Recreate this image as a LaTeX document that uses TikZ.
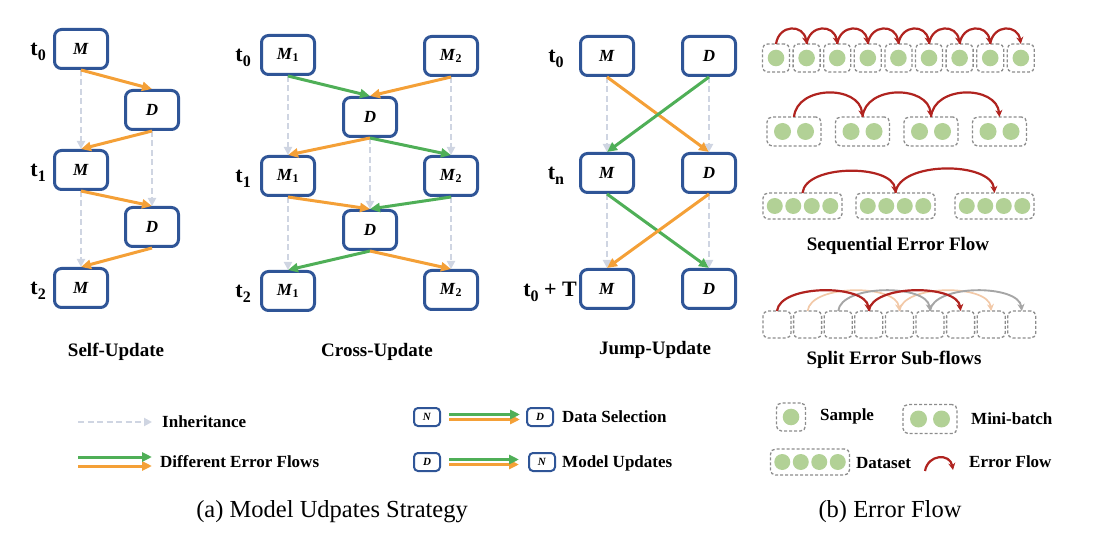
\documentclass[tikz,border=0pt]{standalone}
\usepackage{fontspec}
\setmainfont{Liberation Serif}
\usetikzlibrary{arrows.meta,positioning}

\definecolor{boxblue}{HTML}{2F5597}
\definecolor{flowor}{HTML}{F4A037}
\definecolor{flowgr}{HTML}{4FAF57}
\definecolor{inhgray}{HTML}{CFD5E2}
\definecolor{smpgreen}{HTML}{B2D196}
\definecolor{dashgray}{HTML}{8C8C8C}
\definecolor{errred}{HTML}{B0231F}
\definecolor{errpeach}{HTML}{F2C9A8}
\definecolor{errgray}{HTML}{A6A6A6}

\newcommand{\lbl}[1]{\textbf{\textit{#1}}}
\newcommand{\lbi}[2]{\textbf{\textit{#1}}\textsubscript{\textbf{#2}}}
\newcommand{\tlab}[1]{\textbf{t}\raisebox{-0.22em}{\fontsize{16}{16}\selectfont\textbf{#1}}}

\begin{document}
\begin{tikzpicture}[x=1pt,y=-1pt,
    blk/.style={draw=boxblue,line width=3pt,rounded corners=7pt,fill=white,inner sep=0pt,
        minimum width=53pt,minimum height=39pt,font=\fontsize{17}{20}\selectfont},
    sblk/.style={blk,line width=2pt,rounded corners=4pt,minimum width=26pt,minimum height=18pt,
        font=\fontsize{11}{13}\selectfont},
    tl/.style={font=\fontsize{22}{26}\selectfont,inner sep=0pt},
    ttl/.style={font=\fontsize{19}{22}\selectfont\bfseries},
    leg/.style={font=\fontsize{17}{20}\selectfont\bfseries,anchor=west,inner sep=0pt},
    capt/.style={font=\fontsize{24.5}{28}\selectfont,inner sep=0pt},
    oar/.style={draw=flowor,line width=3pt,-{Triangle[length=10pt,width=9pt]}},
    gar/.style={oar,draw=flowgr},
    inh/.style={draw=inhgray,line width=2.5pt,dash pattern=on 6pt off 3.5pt,-{Triangle[length=8pt,width=8pt]}},
    smp/.style={draw=dashgray,line width=1.3pt,dash pattern=on 3pt off 2pt,rounded corners=5pt,
        inner sep=0pt,outer sep=0pt},
    one/.style={smp,minimum width=27pt,minimum height=28pt,
        path picture={\fill[smpgreen] (path picture bounding box.center) circle (8.3pt);}},
    two/.style={smp,minimum width=54pt,minimum height=29pt,
        path picture={\fill[smpgreen] ([xshift=-11.5pt]path picture bounding box.center) circle (8.5pt)
            ([xshift=11.5pt]path picture bounding box.center) circle (8.5pt);}},
    four/.style={smp,minimum width=79pt,minimum height=26pt,
        path picture={\fill[smpgreen] ([xshift=-27.75pt]path picture bounding box.center) circle (8pt)
            ([xshift=-9.25pt]path picture bounding box.center) circle (8pt)
            ([xshift=9.25pt]path picture bounding box.center) circle (8pt)
            ([xshift=27.75pt]path picture bounding box.center) circle (8pt);}},
    empt/.style={smp,minimum width=28pt,minimum height=27pt},
    hop/.style={draw=errred,line width=2.2pt,-{Stealth[length=7pt,width=7pt]},
        to path={.. controls +(3,-#1) and +(-3,-#1) .. (\tikztotarget)}},
    hop/.default=20]

    \useasboundingbox (0,0) rectangle (1096,540);

    % self-update
    \node[blk] (sm0) at (81,49) {\lbl{M}};
    \node[blk] (sd0) at (152,110) {\lbl{D}};
    \node[blk] (sm1) at (81,170) {\lbl{M}};
    \node[blk] (sd1) at (152,227) {\lbl{D}};
    \node[blk] (sm2) at (81,288) {\lbl{M}};
    \node[tl] (st0) [left=7pt of sm0,yshift=-3pt] {\tlab{0}};
    \node[tl] (st1) [left=7pt of sm1,yshift=-3pt] {\tlab{1}};
    \node[tl] (st2) [left=7pt of sm2,yshift=-3pt] {\tlab{2}};

    \path (sm0.south) edge[inh] (sm1.north)
                      edge[oar] (sd0.north)
          (sd0.south) edge[inh] (sd1.north)
                      edge[oar] (sm1.north)
          (sm1.south) edge[inh] (sm2.north)
                      edge[oar] (sd1.north)
          (sd1.south) edge[oar] (sm2.north);
    \node[ttl] at (116,352) {Self-Update};

    % cross-update
    \node[blk] (cm10) at (288,55) {\lbi{M}{1}};
    \node[blk] (cm20) at (451,56) {\lbi{M}{2}};
    \node[blk] (cd0) at (370,117) {\lbl{D}};
    \node[blk] (cm11) at (288,176) {\lbi{M}{1}};
    \node[blk] (cm21) at (451,176) {\lbi{M}{2}};
    \node[blk] (cd1) at (370,230) {\lbl{D}};
    \node[blk] (cm12) at (288,291) {\lbi{M}{1}};
    \node[blk] (cm22) at (451,290) {\lbi{M}{2}};
    \node[tl] (ct0) [left=9pt of cm10,yshift=-3pt] {\tlab{0}};
    \node[tl] (ct1) [left=9pt of cm11,yshift=-3pt] {\tlab{1}};
    \node[tl] (ct2) [left=9pt of cm12,yshift=-3pt] {\tlab{2}};

    \path (cm10.south) edge[inh] (cm11.north)
                       edge[gar] (cd0.north)
          (cm20.south) edge[inh] (cm21.north)
                       edge[oar] (cd0.north)
          (cd0.south) edge[inh] (cd1.north)
                      edge[oar] (cm11.north)
                      edge[gar] (cm21.north)
          (cm11.south) edge[inh] (cm12.north)
                       edge[oar] (cd1.north)
          (cm21.south) edge[inh] (cm22.north)
                       edge[gar] (cd1.north)
          (cd1.south) edge[gar] (cm12.north)
                      edge[oar] (cm22.north);
    \node[ttl] at (377,352) {Cross-Update};

    % jump-update
    \node[blk] (jm0) at (607,56) {\lbl{M}};
    \node[blk] (jd0) at (709,56) {\lbl{D}};
    \node[blk] (jm1) at (607,173) {\lbl{M}};
    \node[blk] (jd1) at (709,173) {\lbl{D}};
    \node[blk] (jm2) at (607,289) {\lbl{M}};
    \node[blk] (jd2) at (709,289) {\lbl{D}};
    \node[tl] (jt0) at (556,59) {\tlab{0}};
    \node[tl] (jt1) at (556,176) {\tlab{n}};
    \node[tl,anchor=east] (jt2) at (577,292) {\tlab{0} \textbf{+ T}};

    \path (jm0.south) edge[inh] (jm1.north)
                      edge[oar] (jd1.north)
          (jd0.south) edge[inh] (jd1.north)
                      edge[gar] (jm1.north)
          (jm1.south) edge[inh] (jm2.north)
                      edge[gar] (jd2.north)
          (jd1.south) edge[inh] (jd2.north)
                      edge[oar] (jm2.north);
    \node[ttl] at (655,350) {Jump-Update};

    % sequential error flow
    \node[one] (a1) at (776,58) {};
    \node[one] (a2) [right=3.6pt of a1] {};
    \node[one] (a3) [right=3.6pt of a2] {};
    \node[one] (a4) [right=3.6pt of a3] {};
    \node[one] (a5) [right=3.6pt of a4] {};
    \node[one] (a6) [right=3.6pt of a5] {};
    \node[one] (a7) [right=3.6pt of a6] {};
    \node[one] (a8) [right=3.6pt of a7] {};
    \node[one] (a9) [right=3.6pt of a8] {};
    \path (a1.north) edge[hop] (a2.north)
          (a2.north) edge[hop] (a3.north)
          (a3.north) edge[hop] (a4.north)
          (a4.north) edge[hop] (a5.north)
          (a5.north) edge[hop] (a6.north)
          (a6.north) edge[hop] (a7.north)
          (a7.north) edge[hop] (a8.north)
          (a8.north) edge[hop] (a9.north);

    \node[two] (b1) at (794,131.5) {};
    \node[two] (b2) [right=14.5pt of b1] {};
    \node[two] (b3) [right=14.5pt of b2] {};
    \node[two] (b4) [right=14.5pt of b3] {};
    \path (b1.north) edge[hop=32] (b2.north)
          (b2.north) edge[hop=32] (b3.north)
          (b3.north) edge[hop=32] (b4.north);

    \node[four] (c1) at (802.5,206) {};
    \node[four] (c2) [right=14pt of c1] {};
    \node[four] (c3) [right=20pt of c2] {};
    \path (c1.north) edge[hop=29] (c2.north)
          (c2.north) edge[hop=32] (c3.north);
    \node[ttl] at (898,246) {Sequential Error Flow};

    % split error sub-flows
    \node[empt] (p1) at (777,324.5) {};
    \node[empt] (p2) [right=2.6pt of p1] {};
    \node[empt] (p3) [right=2.6pt of p2] {};
    \node[empt] (p4) [right=2.6pt of p3] {};
    \node[empt] (p5) [right=2.6pt of p4] {};
    \node[empt] (p6) [right=2.6pt of p5] {};
    \node[empt] (p7) [right=2.6pt of p6] {};
    \node[empt] (p8) [right=2.6pt of p7] {};
    \node[empt] (p9) [right=2.6pt of p8] {};
    \path (p2.north) edge[hop=27,draw=errpeach,line width=1.7pt] (p5.north)
          (p5.north) edge[hop=27,draw=errpeach,line width=1.7pt] (p8.north)
          (p3.north) edge[hop=27,draw=errgray,line width=1.9pt] (p6.north)
          (p6.north) edge[hop=27,draw=errgray,line width=1.9pt] (p9.north)
          (p1.north) edge[hop=27] (p4.north)
          (p4.north) edge[hop=27] (p7.north);
    \node[ttl] at (894,360) {Split Error Sub-flows};

    % legend (a)
    \coordinate (ia) at (78,422);
    \coordinate (ib) at (152,422);
    \draw[inh] (ia) -- (ib);
    \node[leg] at (162,422) {Inheritance};
    \coordinate (oa) at (78,466);
    \coordinate (ob) at (152,466);
    \coordinate (ga) at (78,457);
    \coordinate (gb) at (152,457);
    \draw[oar] (oa) -- (ob);
    \draw[gar] (ga) -- (gb);
    \node[leg] at (160,462) {Different Error Flows};

    \node[sblk] (ln1) at (427,417) {\lbl{N}};
    \node[sblk] (ld1) at (540,417) {\lbl{D}};
    \draw[oar] ([xshift=8pt,yshift=-2.5pt]ln1.east) -- ([xshift=-6pt,yshift=-2.5pt]ld1.west);
    \draw[gar] ([xshift=8pt,yshift=2.5pt]ln1.east) -- ([xshift=-6pt,yshift=2.5pt]ld1.west);
    \node[leg] at (562,417) {Data Selection};
    \node[sblk] (ld2) at (427,462) {\lbl{D}};
    \node[sblk] (ln2) at (542,462) {\lbl{N}};
    \draw[oar] ([xshift=8pt,yshift=-2.5pt]ld2.east) -- ([xshift=-9pt,yshift=-2.5pt]ln2.west);
    \draw[gar] ([xshift=8pt,yshift=2.5pt]ld2.east) -- ([xshift=-9pt,yshift=2.5pt]ln2.west);
    \node[leg] at (562,463) {Model Updates};

    % legend (b)
    \node[one,minimum width=29pt] (lsmp) at (791,417) {};
    \node[leg] at (820,416) {Sample};
    \node[two] (lmb) at (930,419) {};
    \node[leg] at (971,419) {Mini-batch};
    \node[four] (lds) at (810,462) {};
    \node[leg] at (856,463) {Dataset};
    \coordinate (efa) at (925,471);
    \coordinate (efb) at (953,470);
    \draw[hop=17] (efa) to (efb);
    \node[leg] at (969,462) {Error Flow};

    \node[capt,anchor=base east] at (468,517) {(a) Model Udpates Strategy};
    \node[capt,anchor=base] at (890,517) {(b) Error Flow};
\end{tikzpicture}
\end{document}
